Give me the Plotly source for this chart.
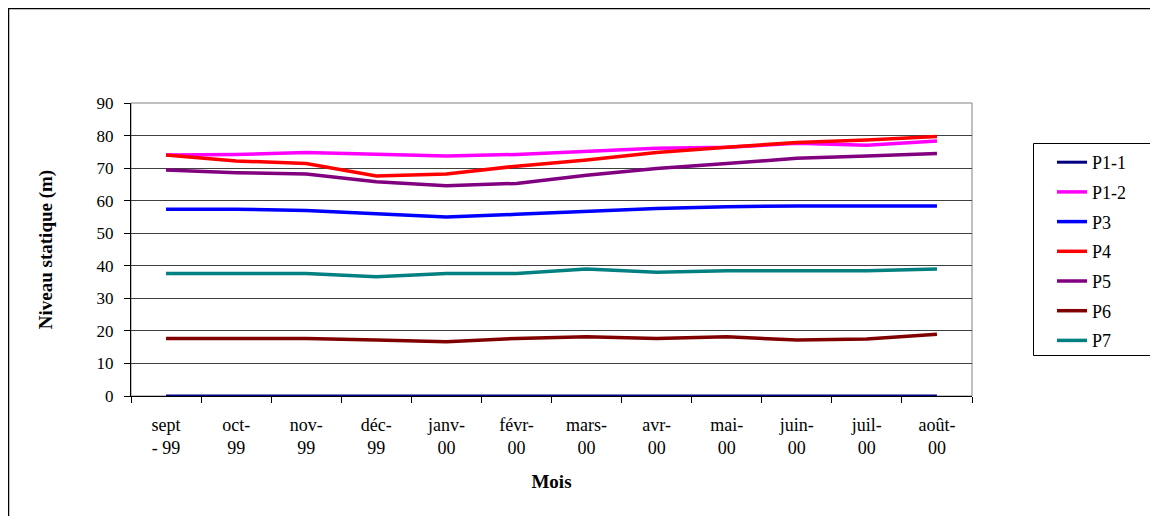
import plotly.graph_objects as go

months = ["sept<br>- 99", "oct-<br>99", "nov-<br>99", "déc-<br>99", "janv-<br>00", "févr-<br>00",
          "mars-<br>00", "avr-<br>00", "mai-<br>00", "juin-<br>00", "juil-<br>00", "août-<br>00"]

p1_1 = [0, 0, 0, 0, 0, 0, 0, 0, 0, 0, 0, 0]
p1_2 = [74.0, 74.2, 74.8, 74.2, 73.7, 74.2, 75.2, 76.1, 76.4, 77.6, 77.0, 78.3]
p3 = [57.4, 57.4, 57.0, 56.1, 55.0, 55.8, 56.8, 57.6, 58.1, 58.4, 58.4, 58.4]
p4 = [74.0, 72.2, 71.4, 67.6, 68.2, 70.6, 72.5, 74.8, 76.4, 77.9, 78.6, 79.7]
p5 = [69.4, 68.6, 68.2, 65.8, 64.6, 65.3, 67.8, 69.9, 71.4, 73.0, 73.7, 74.5]
p6 = [17.7, 17.7, 17.7, 17.2, 16.7, 17.7, 18.2, 17.7, 18.2, 17.2, 17.5, 19.0]
p7 = [37.6, 37.6, 37.6, 36.6, 37.6, 37.6, 39.0, 38.0, 38.5, 38.5, 38.5, 39.0]

series = [
    ("P1-1", p1_1, "#000080", 3),
    ("P1-2", p1_2, "#FF00FF", 3.5),
    ("P3", p3, "#0000FF", 3.5),
    ("P4", p4, "#FF0000", 3.5),
    ("P5", p5, "#800080", 3.5),
    ("P6", p6, "#800000", 3.5),
    ("P7", p7, "#008080", 3.5),
]

fig = go.Figure()
for name, vals, color, w in series:
    fig.add_trace(go.Scatter(x=months, y=vals, name=name, mode="lines",
                             line=dict(color=color, width=w), legendgroup=name))

font_family = "Liberation Serif"

# page is offset by 8px body margin
OFF = 8
L, T = 131 - OFF, 103 - OFF
W, H = 1158, 516
R = W - (972 - OFF)
B = H - (396 - OFF)
pw = W - L - R
ph = H - T - B

def px_x(sx):
    return (sx - OFF - L) / pw

def px_y(sy):
    return (H - B - (sy - OFF)) / ph

fig.update_layout(
    width=W, height=H,
    margin=dict(l=L, r=R, t=T, b=B),
    paper_bgcolor="white", plot_bgcolor="white",
    font=dict(family=font_family, size=16, color="black"),
    showlegend=True,
    legend=dict(x=px_x(1052), y=px_y(144), xanchor="left", yanchor="top",
                borderwidth=0, bgcolor="rgba(0,0,0,0)",
                font=dict(family=font_family, size=18), tracegroupgap=3.3,
                traceorder="grouped"),
    xaxis=dict(type="category", range=[-0.5, 11.5], showgrid=False,
               showline=True, linecolor="black", linewidth=1, layer="below traces",
               ticks="outside", tickson="boundaries", ticklen=6, tickcolor="black",
               ticklabelstandoff=12,
               tickfont=dict(family=font_family, size=18),
               title=dict(text="<b>Mois</b>", font=dict(family=font_family, size=19), standoff=17)),
    yaxis=dict(range=[0, 90], dtick=10, showgrid=True, gridcolor="#404040", gridwidth=1,
               showline=True, linecolor="black", linewidth=1, zeroline=False,
               ticks="outside", ticklen=6, tickcolor="black",
               ticklabelstandoff=7,
               tickfont=dict(family=font_family, size=17),
               title=dict(text="<b>Niveau statique (m)</b>", font=dict(family=font_family, size=19), standoff=38)),
    shapes=[
        dict(type="rect", xref="paper", yref="paper", x0=0, x1=1, y0=0, y1=1,
             line=dict(color="#808080", width=1), layer="below"),
        dict(type="rect", xref="paper", yref="paper",
             x0=px_x(8.5), x1=px_x(1170), y0=px_y(530), y1=px_y(8.5),
             line=dict(color="black", width=1.5)),
        dict(type="rect", xref="paper", yref="paper",
             x0=px_x(1033.5), x1=px_x(1156.5), y0=px_y(355.5), y1=px_y(143.5),
             line=dict(color="black", width=1)),
    ],
)

fig.write_html("out.html")
